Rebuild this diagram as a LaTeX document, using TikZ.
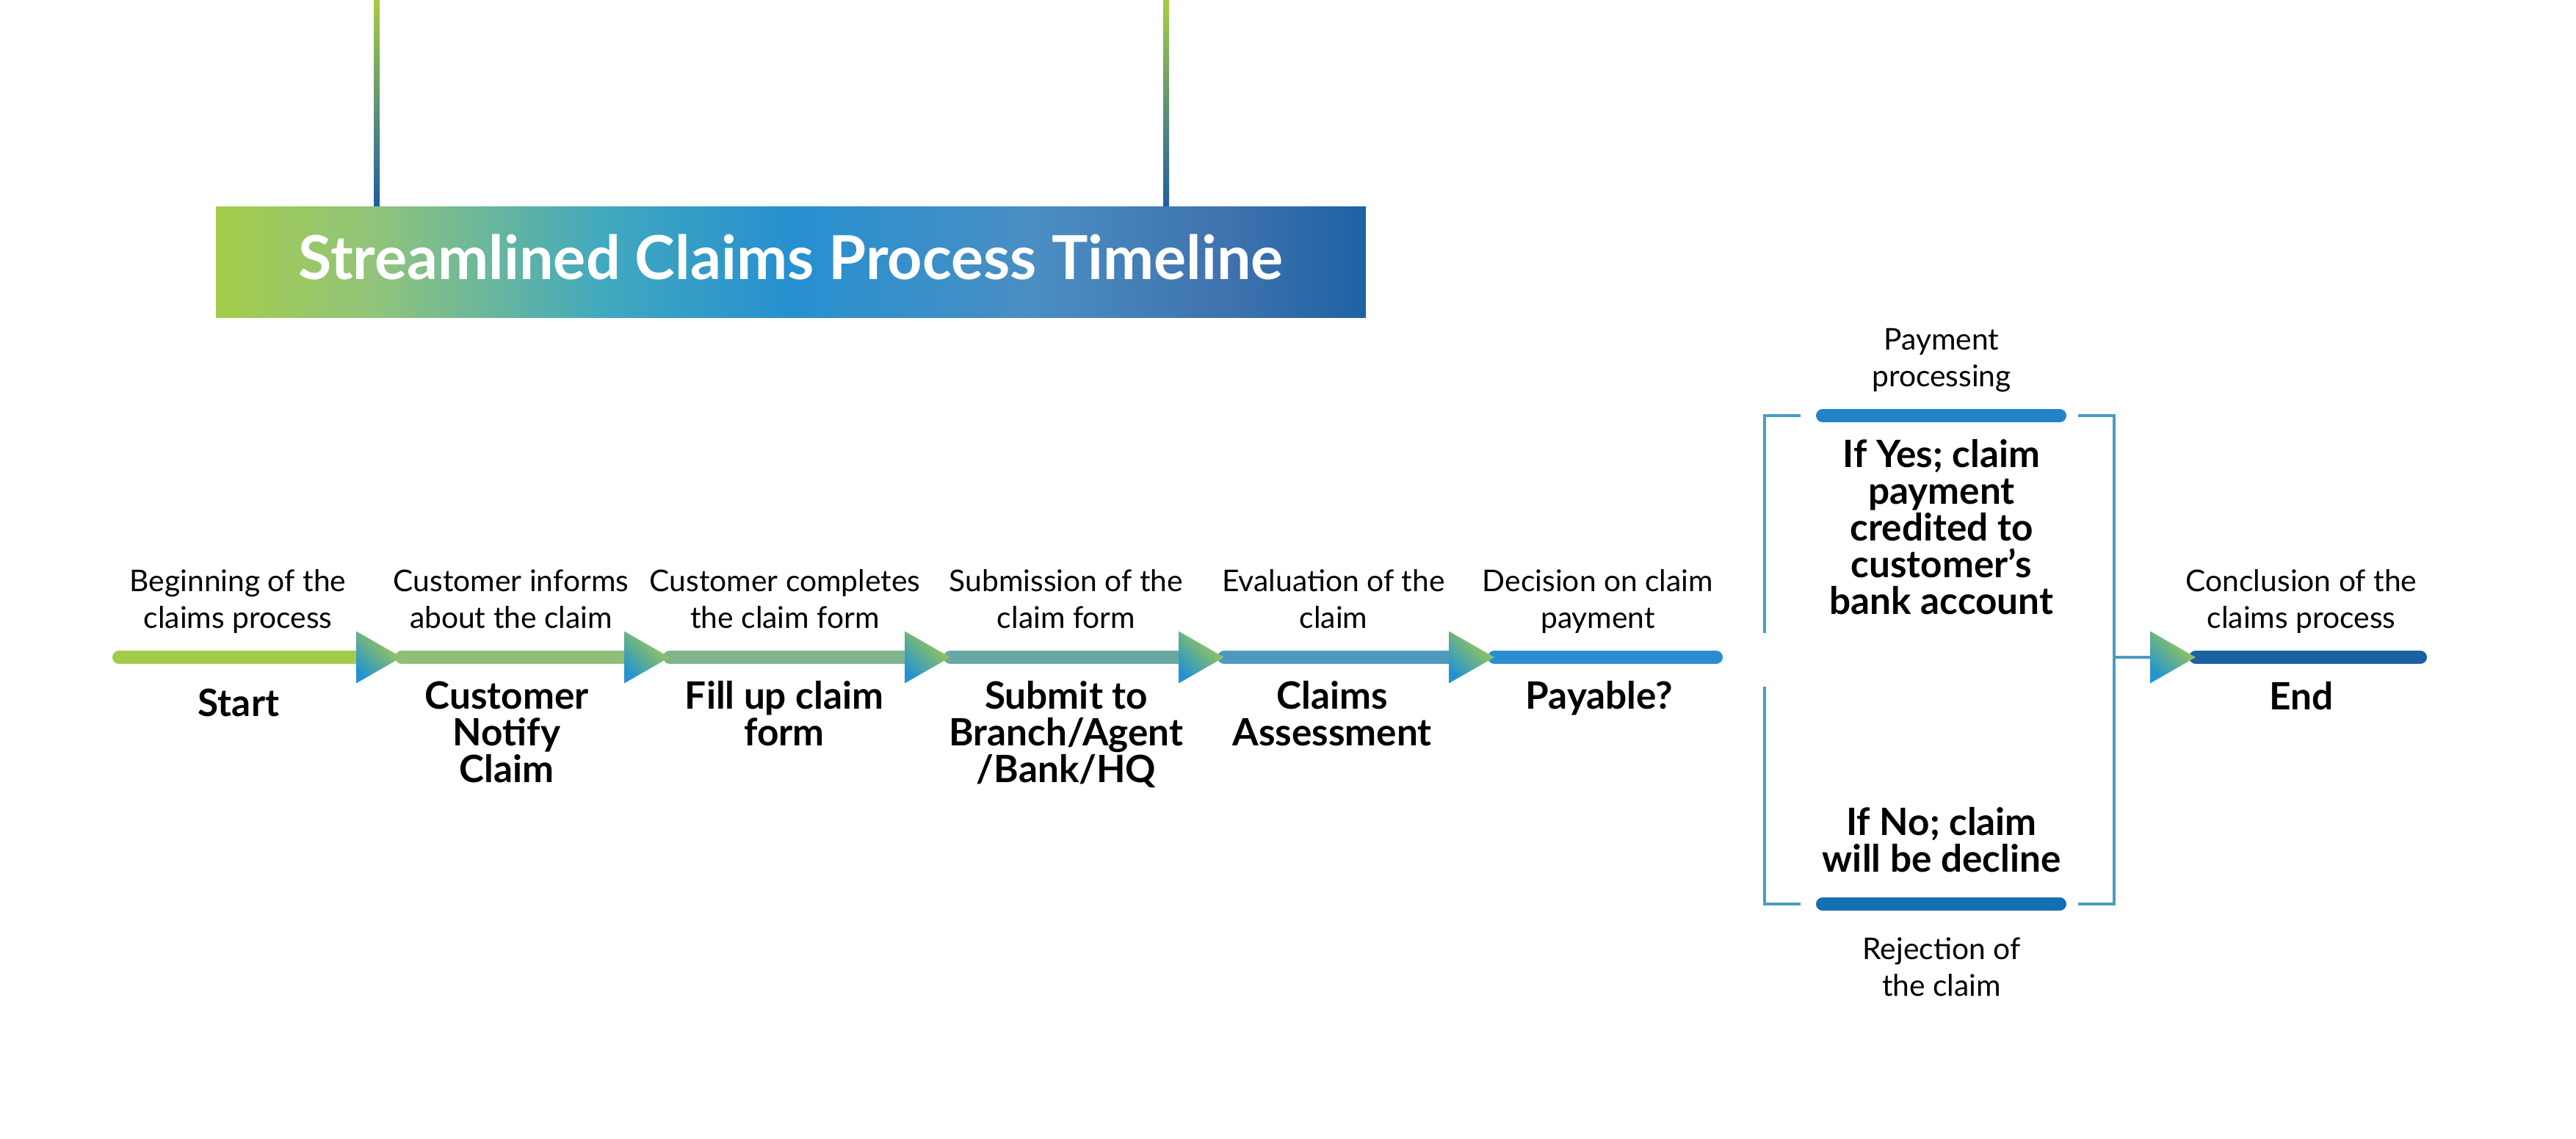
\documentclass[tikz,border=0pt]{standalone}
\usepackage{fontspec}
\setmainfont{Lato}
\usetikzlibrary{positioning,calc}

\definecolor{hangtop}{HTML}{A6CC45}
\definecolor{hangmid}{HTML}{2590D0}
\definecolor{hangbot}{HTML}{1F5E9F}
\definecolor{bnA}{HTML}{A4CC4A}
\definecolor{bnB}{HTML}{90C47C}
\definecolor{bnC}{HTML}{40A8BF}
\definecolor{bnD}{HTML}{2690D0}
\definecolor{bnE}{HTML}{4A8EC3}
\definecolor{bnF}{HTML}{3F72AE}
\definecolor{bnG}{HTML}{1E62A4}
\definecolor{segA}{HTML}{A3CB4B}
\definecolor{segB}{HTML}{8FBF76}
\definecolor{segC}{HTML}{7FB48C}
\definecolor{segD}{HTML}{68A8A4}
\definecolor{segE}{HTML}{4C9BBE}
\definecolor{segF}{HTML}{2A8DD0}
\definecolor{segEnd}{HTML}{1A62A2}
\definecolor{tipgreen}{HTML}{A8CE48}
\definecolor{tipblue}{HTML}{2593D0}
\definecolor{bracketblue}{HTML}{4A9CC2}
\definecolor{bartop}{HTML}{2283C8}
\definecolor{barbot}{HTML}{1370B2}

\pgfdeclarehorizontalshading{bannershade}{100bp}{%
  color(0bp)=(bnA); color(25bp)=(bnA); color(32bp)=(bnB); color(42bp)=(bnC);
  color(50bp)=(bnD); color(60.5bp)=(bnE); color(69bp)=(bnF); color(75bp)=(bnG);
  color(100bp)=(bnG)}

\tikzset{
    stepnote/.style={align=center, anchor=base, inner sep=0pt,
        font=\fontsize{11.6}{14.2}\selectfont},
    steplabel/.style={align=center, anchor=base, inner sep=0pt,
        font=\bfseries\fontsize{14.6}{14.2}\selectfont},
    segment/.style={line width=0.18cm, line cap=round},
    tipshade/.style={top color=tipgreen, bottom color=tipblue, shading angle=-45},
    bracketline/.style={draw=bracketblue, line width=0.04cm},
    bar/.style={line width=0.18cm, line cap=round}
}

\begin{document}
\begin{tikzpicture}[x=1cm, y=1cm]
    \useasboundingbox (0, 0) rectangle (35.08, -15.50);
    % hanging lines and banner
    \shade[top color=hangtop, middle color=hangmid, bottom color=hangbot] (5.09, 0) rectangle (5.17, -2.81);
    \shade[top color=hangtop, middle color=hangmid, bottom color=hangbot] (15.84, 0) rectangle (15.92, -2.81);
    \shade[shading=bannershade] (2.94, -2.81) rectangle (18.60, -4.32);
    \node[font=\bfseries\fontsize{23.5}{28}\selectfont, text=white, anchor=base, inner sep=0pt] (title) at (10.77, -3.80) {Streamlined Claims Process Timeline};

    % timeline points
    \coordinate (s0) at (1.62, -8.95);
    \coordinate (b1) at (4.85, -8.95);
    \coordinate (t1) at (5.47, -8.95);
    \coordinate (b2) at (8.50, -8.95);
    \coordinate (t2) at (9.12, -8.95);
    \coordinate (b3) at (12.32, -8.95);
    \coordinate (t3) at (12.94, -8.95);
    \coordinate (b4) at (16.05, -8.95);
    \coordinate (t4) at (16.67, -8.95);
    \coordinate (b5) at (19.73, -8.95);
    \coordinate (t5) at (20.35, -8.95);
    \coordinate (s6) at (23.37, -8.95);
    \coordinate (b7) at (29.28, -8.95);
    \coordinate (t7) at (29.90, -8.95);
    \coordinate (s7) at (32.96, -8.95);

    \draw[segment, segA] (s0) -- (b1);
    \draw[segment, segB] (t1) -- (b2);
    \draw[segment, segC] (t2) -- (b3);
    \draw[segment, segD] (t3) -- (b4);
    \draw[segment, segE] (t4) -- (b5);
    \draw[segment, segF] (t5) -- (s6);
    \draw[segment, segEnd] (t7) -- (s7);

    \shade[tipshade] ($(b1) + (0, 0.355)$) -- (t1) -- ($(b1) + (0, -0.355)$) -- cycle;
    \shade[tipshade] ($(b2) + (0, 0.355)$) -- (t2) -- ($(b2) + (0, -0.355)$) -- cycle;
    \shade[tipshade] ($(b3) + (0, 0.355)$) -- (t3) -- ($(b3) + (0, -0.355)$) -- cycle;
    \shade[tipshade] ($(b4) + (0, 0.355)$) -- (t4) -- ($(b4) + (0, -0.355)$) -- cycle;
    \shade[tipshade] ($(b5) + (0, 0.355)$) -- (t5) -- ($(b5) + (0, -0.355)$) -- cycle;
    \shade[tipshade] ($(b7) + (0, 0.355)$) -- (t7) -- ($(b7) + (0, -0.355)$) -- cycle;

    % notes above the line (anchor = last baseline)
    \node[stepnote] (n1) at (3.24, -8.55) {Beginning of the\\claims process};
    \node[stepnote] (n2) at (6.96, -8.55) {Customer informs\\about the claim};
    \node[stepnote] (n3) at (10.69, -8.55) {Customer completes\\the claim form};
    \node[stepnote] (n4) at (14.52, -8.55) {Submission of the\\claim form};
    \node[stepnote] (n5) at (18.16, -8.55) {Evaluation of the\\claim};
    \node[stepnote] (n6) at (21.76, -8.55) {Decision on claim\\payment};
    \node[stepnote] (n7) at (31.34, -8.55) {Conclusion of the\\claims process};

    % labels below the line
    \node[steplabel] (l1) at (3.25, -9.75) {Start};
    \node[steplabel] (l2) at (6.90, -10.65) {Customer\\Notify\\Claim};
    \node[steplabel] (l3) at (10.68, -10.15) {Fill up claim\\form};
    \node[steplabel] (l4) at (14.52, -10.65) {Submit to\\Branch/Agent\\/Bank/HQ};
    \node[steplabel] (l5) at (18.14, -10.15) {Claims\\Assessment};
    \node[steplabel] (l6) at (21.78, -9.65) {Payable?};
    \node[steplabel] (l7) at (31.34, -9.66) {End};

    % decision bracket
    \coordinate (brR) at (28.79, -8.95);
    \draw[bracketline] (24.52, -5.655) -- (24.03, -5.655) -- (24.03, -8.62);
    \draw[bracketline] (24.03, -9.35) -- (24.03, -12.31) -- (24.52, -12.31);
    \draw[bracketline] (28.30, -5.655) -- (28.79, -5.655) -- (28.79, -12.31) -- (28.30, -12.31);
    \draw[bracketline] (brR) -- (b7);
    \draw[bar, bartop] (24.82, -5.66) -- (28.05, -5.66);
    \draw[bar, barbot] (24.82, -12.31) -- (28.05, -12.31);

    \node[stepnote] (pay) at (26.44, -5.26) {Payment\\processing};
    \node[steplabel] (yes) at (26.44, -8.36) {If Yes; claim\\payment\\credited to\\customer’s\\bank account};
    \node[steplabel] (no) at (26.44, -11.87) {If No; claim\\will be decline};
    \node[stepnote] (rej) at (26.44, -13.56) {Rejection of\\the claim};
\end{tikzpicture}
\end{document}
